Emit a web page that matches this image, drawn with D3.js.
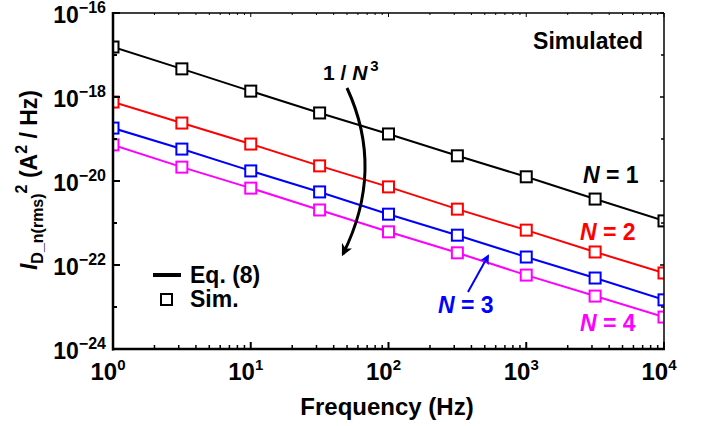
<!DOCTYPE html>
<html><head><meta charset="utf-8">
<script src="https://cdn.jsdelivr.net/npm/d3@7"></script>
<style>body{margin:0;background:#fff}text{font-family:"Liberation Sans",Arial,sans-serif;font-weight:bold}</style>
</head><body><svg id="c" width="709" height="426"></svg>
<script>
const freqs = [1, 3.162, 10, 31.62, 100, 316.2, 1000, 3162, 10000];
// log10 of I^2 values
const logN1 = [-16.81, -17.33, -17.86, -18.38, -18.88, -19.40, -19.90, -20.43, -20.95];
const logN2 = [-18.12, -18.62, -19.12, -19.64, -20.14, -20.67, -21.17, -21.69, -22.19];
const logN3 = [-18.74, -19.24, -19.76, -20.26, -20.79, -21.29, -21.81, -22.31, -22.83];
const logN4 = [-19.14, -19.67, -20.17, -20.69, -21.21, -21.71, -22.24, -22.74, -23.24];
const seriesNames = ["N = 1", "N = 2", "N = 3", "N = 4"];
const colors = ["#000000", "#ff0000", "#0000ff", "#ff00ff"];
const xTickExp = [0, 1, 2, 3, 4];
const yTickExp = [-16, -18, -20, -22, -24];

const svg = d3.select("#c");
const L = 113, R = 664, T = 13, B = 349;
const x = d3.scaleLog().domain([1, 1e4]).range([L, R]);
const y = d3.scaleLog().domain([1e-24, 1e-16]).range([B, T]);

svg.append("defs").append("clipPath").attr("id", "clip")
  .append("rect").attr("x", L).attr("y", T).attr("width", R - L).attr("height", B - T);

const allSeries = [logN1, logN2, logN3, logN4].map(a => a.map((v, i) => ({f: freqs[i], v: Math.pow(10, v)})));

const g = svg.append("g").attr("clip-path", "url(#clip)");
const line = d3.line().x(d => x(d.f)).y(d => y(d.v));
allSeries.forEach((s, k) => {
  g.append("path").attr("d", line(s)).attr("fill", "none").attr("stroke", colors[k]).attr("stroke-width", 2);
});
allSeries.forEach((s, k) => {
  g.selectAll(null).data(s).enter().append("rect")
    .attr("x", d => x(d.f) - 5.5).attr("y", d => y(d.v) - 5.5)
    .attr("width", 11).attr("height", 11)
    .attr("fill", "#fff").attr("stroke", colors[k]).attr("stroke-width", 2);
});

const xMinor = [];
for (let e = 0; e < 4; e++) for (let m = 2; m <= 9; m++) xMinor.push(m * Math.pow(10, e));
const xMajor = xTickExp.map(e => Math.pow(10, e));
const yMajor = yTickExp.map(e => Math.pow(10, e));
const yMinor = [-17, -19, -21, -23].map(e => Math.pow(10, e));

const axG = svg.append("g").attr("stroke", "#000");
xMajor.forEach(v => { axG.append("line").attr("x1", x(v)).attr("x2", x(v)).attr("y1", B).attr("y2", B - 7).attr("stroke-width", 2);
  axG.append("line").attr("x1", x(v)).attr("x2", x(v)).attr("y1", T).attr("y2", T + 4).attr("stroke-width", 1); });
xMinor.forEach(v => { axG.append("line").attr("x1", x(v)).attr("x2", x(v)).attr("y1", B).attr("y2", B - 4).attr("stroke-width", 1.5);
  axG.append("line").attr("x1", x(v)).attr("x2", x(v)).attr("y1", T).attr("y2", T + 2).attr("stroke-width", 1); });
yMajor.forEach(v => { axG.append("line").attr("x1", L).attr("x2", L + 7).attr("y1", y(v)).attr("y2", y(v)).attr("stroke-width", 2);
  axG.append("line").attr("x1", R).attr("x2", R - 4).attr("y1", y(v)).attr("y2", y(v)).attr("stroke-width", 1.5); });
yMinor.forEach(v => { axG.append("line").attr("x1", L).attr("x2", L + 4).attr("y1", y(v)).attr("y2", y(v)).attr("stroke-width", 2);
  axG.append("line").attr("x1", R).attr("x2", R - 3).attr("y1", y(v)).attr("y2", y(v)).attr("stroke-width", 1.5); });

svg.append("line").attr("x1", L).attr("x2", R).attr("y1", T).attr("y2", T).attr("stroke", "#000").attr("stroke-width", 1.5);
svg.append("line").attr("x1", R).attr("x2", R).attr("y1", T).attr("y2", B).attr("stroke", "#000").attr("stroke-width", 1.5);
svg.append("line").attr("x1", L).attr("x2", L).attr("y1", T - 1).attr("y2", B + 1.5).attr("stroke", "#000").attr("stroke-width", 2.5);
svg.append("line").attr("x1", L - 1).attr("x2", R + 1).attr("y1", B).attr("y2", B).attr("stroke", "#000").attr("stroke-width", 2.5);

xTickExp.forEach(e => {
  const t = svg.append("text").attr("x", x(Math.pow(10, e)) - 5).attr("y", 380).attr("text-anchor", "middle").attr("font-size", 24);
  t.append("tspan").text("10");
  t.append("tspan").attr("dy", -10).attr("font-size", 15).text(e);
});
yTickExp.forEach(e => {
  const t = svg.append("text").attr("x", 106).attr("y", y(Math.pow(10, e)) + 10).attr("text-anchor", "end").attr("font-size", 23);
  t.append("tspan").text("10");
  t.append("tspan").attr("dy", -10).attr("font-size", 16).text("\u2212" + (-e));
});

svg.append("text").attr("x", 387).attr("y", 415).attr("text-anchor", "middle").attr("font-size", 24).text("Frequency (Hz)");
const yl = svg.append("text").attr("transform", "translate(37,180) rotate(-90)").attr("text-anchor", "middle").attr("font-size", 23);
yl.append("tspan").attr("font-style", "italic").text("I");
yl.append("tspan").attr("font-size", 16).attr("dy", 6).text("D_n(rms)");
yl.append("tspan").attr("font-size", 16).attr("dy", -16).text("2");
yl.append("tspan").attr("dy", 10).text(" (A");
yl.append("tspan").attr("font-size", 16).attr("dy", -10).text("2");
yl.append("tspan").attr("dy", 10).text(" / Hz)");

svg.append("text").attr("x", 643).attr("y", 49).attr("text-anchor", "end").attr("font-size", 23).text("Simulated");

svg.append("line").attr("x1", 153).attr("x2", 181).attr("y1", 275).attr("y2", 275).attr("stroke", "#000").attr("stroke-width", 4);
svg.append("text").attr("x", 190).attr("y", 283).attr("font-size", 23).text("Eq. (8)");
svg.append("rect").attr("x", 161).attr("y", 294).attr("width", 11).attr("height", 11).attr("fill", "#fff").attr("stroke", "#000").attr("stroke-width", 2);
svg.append("text").attr("x", 190).attr("y", 307).attr("font-size", 23).text("Sim.");

const labPos = [[583, 183], [580, 240], [438, 313], [580, 331]];
seriesNames.forEach((n, k) => {
  const t = svg.append("text").attr("x", labPos[k][0]).attr("y", labPos[k][1]).attr("font-size", 23).attr("fill", colors[k]);
  t.append("tspan").attr("font-style", "italic").text("N");
  t.append("tspan").text(n.slice(1));
});

const ann = svg.append("text").attr("x", 323).attr("y", 80).attr("font-size", 21);
ann.append("tspan").text("1 / ");
ann.append("tspan").attr("font-style", "italic").text("N");
ann.append("tspan").attr("font-size", 15).attr("dy", -9).attr("dx", 3).text("3");

svg.append("defs").html('<marker id="ah" viewBox="0 0 10 10" refX="8" refY="5" markerWidth="4" markerHeight="4" orient="auto"><path d="M0,0 L10,5 L0,10 L3,5 z" fill="#000"/></marker>' +
  '<marker id="ahb" viewBox="0 0 10 10" refX="8" refY="5" markerWidth="5" markerHeight="5" orient="auto"><path d="M0,0 L10,5 L0,10 L3,5 z" fill="#0000ff"/></marker>');
svg.append("path").attr("d", "M347,88 Q385,170 343,254").attr("fill", "none").attr("stroke", "#000").attr("stroke-width", 3).attr("marker-end", "url(#ah)");
svg.append("path").attr("d", "M468,292 L488,256").attr("fill", "none").attr("stroke", "#0000ff").attr("stroke-width", 2).attr("marker-end", "url(#ahb)");
</script></body></html>
